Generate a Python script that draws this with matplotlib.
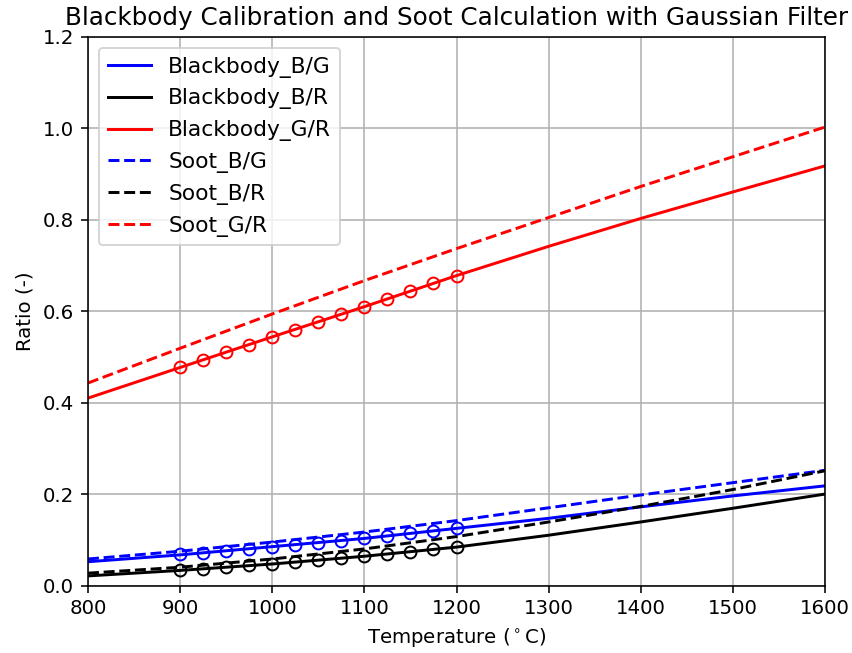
import numpy as np
import matplotlib
matplotlib.use('Agg')
import matplotlib.pyplot as plt

# temperatures for the fitted curves and for the measured points
temp = [800, 900, 1000, 1100, 1200, 1300, 1400, 1500, 1600]
temp_meas = [900, 925, 950, 975, 1000, 1025, 1050, 1075, 1100, 1125, 1150, 1175, 1200]

# blackbody calibration curves
bb_bg = [0.052, 0.067, 0.085, 0.103, 0.125, 0.147, 0.172, 0.196, 0.218]
bb_br = [0.021, 0.033, 0.047, 0.064, 0.084, 0.110, 0.139, 0.169, 0.200]
bb_gr = [0.410, 0.477, 0.544, 0.610, 0.678, 0.742, 0.803, 0.861, 0.918]

# soot curves
soot_bg = [0.058, 0.075, 0.095, 0.117, 0.142, 0.170, 0.198, 0.225, 0.252]
soot_br = [0.027, 0.040, 0.058, 0.080, 0.107, 0.139, 0.173, 0.210, 0.251]
soot_gr = [0.443, 0.519, 0.594, 0.667, 0.737, 0.805, 0.873, 0.938, 1.003]

# measured blackbody ratios
meas_bg = [0.068, 0.072, 0.076, 0.080, 0.085, 0.089, 0.094, 0.098, 0.103, 0.108, 0.114, 0.119, 0.125]
meas_br = [0.034, 0.037, 0.041, 0.044, 0.048, 0.052, 0.056, 0.060, 0.064, 0.069, 0.074, 0.079, 0.085]
meas_gr = [0.477, 0.494, 0.511, 0.527, 0.544, 0.560, 0.577, 0.593, 0.610, 0.627, 0.644, 0.661, 0.678]

fig = plt.figure(figsize=(852 / 142, 653 / 142), dpi=142)
ax = fig.add_axes([88 / 852, 1 - 585.5 / 653, 737 / 852, 548.5 / 653])

ax.plot(temp, bb_bg, 'b-', label='Blackbody_B/G')
ax.plot(temp, bb_br, 'k-', label='Blackbody_B/R')
ax.plot(temp, bb_gr, 'r-', label='Blackbody_G/R')
ax.plot(temp, soot_bg, 'b--', label='Soot_B/G')
ax.plot(temp, soot_br, 'k--', label='Soot_B/R')
ax.plot(temp, soot_gr, 'r--', label='Soot_G/R')

ax.plot(temp_meas, meas_bg, 'o', mfc='none', mec='b')
ax.plot(temp_meas, meas_br, 'o', mfc='none', mec='k')
ax.plot(temp_meas, meas_gr, 'o', mfc='none', mec='r')

ax.set_xlim(800, 1600)
ax.set_ylim(0, 1.2)
ax.grid(True)
ax.set_xlabel(r'Temperature ($^\circ$C)')
ax.set_ylabel('Ratio (-)')
ax.set_title('Blackbody Calibration and Soot Calculation with Gaussian Filter', fontsize=12.5)
ax.legend(loc='upper left', fontsize=11)

fig.savefig('out.png', dpi=142)
